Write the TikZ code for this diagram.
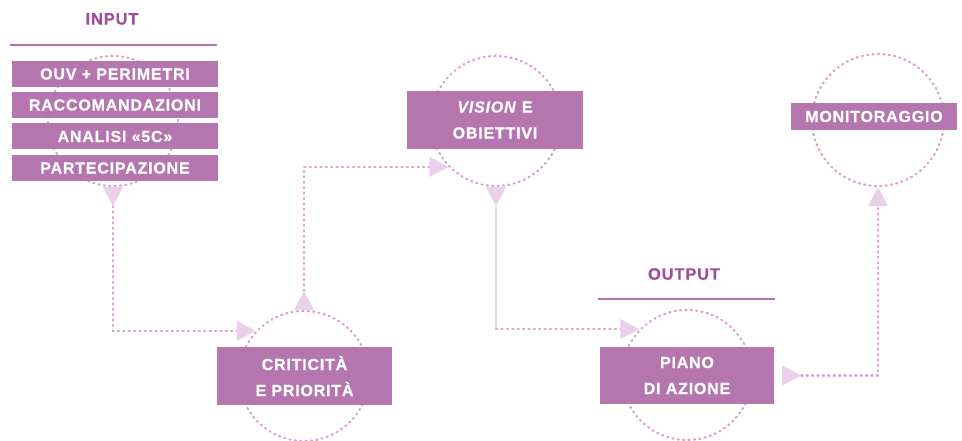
\documentclass[tikz,border=0pt]{standalone}
\usepackage{fontspec}
\setmainfont{Liberation Sans}
\newfontfamily\labfont[LetterSpace=5, FakeBold=0.6, ItalicFont={Liberation Sans Bold Italic}, ItalicFeatures={FakeBold=0.6}]{Liberation Sans Bold}
\usetikzlibrary{arrows.meta,calc}
\definecolor{boxc}{RGB}{181,117,175}
\definecolor{titlec}{RGB}{160,78,156}
\definecolor{rulec}{RGB}{182,112,176}
\definecolor{dotc}{RGB}{218,160,212}
\definecolor{tric}{RGB}{234,208,232}
\definecolor{linec}{RGB}{236,212,234}
\begin{document}
\begin{tikzpicture}[x=1pt,y=-1pt,
  box/.style={fill=boxc, text=white, inner sep=0pt, align=center,
    font=\labfont\fontsize{16}{26}\selectfont},
  title/.style={text=titlec, inner sep=0pt, font=\labfont\fontsize{16.5}{18}\selectfont},
  titlerule/.style={draw=rulec, line width=2.2pt},
  ring/.style={circle, minimum size=130pt, inner sep=0pt, draw=dotc, line width=2.2pt,
    dash pattern=on 1.2pt off 4.2pt, line cap=round},
  dots/.style={draw=dotc, line width=2.2pt, dash pattern=on 1.2pt off 4.2pt, line cap=round},
  solidl/.style={draw=linec, line width=1.6pt},
  both/.style={arrows={Triangle[reversed,length=19pt,width=20pt,color=tric,line width=0pt]-Triangle[length=19pt,width=20pt,color=tric,line width=0pt]}},
  startonly/.style={arrows={Triangle[reversed,length=19pt,width=20pt,color=tric,line width=0pt]-}},
  endonly/.style={arrows={-Triangle[length=19pt,width=20pt,color=tric,line width=0pt]}}
]
\useasboundingbox (0,0) rectangle (962,441);

% rings
\node[ring] (cIn) at (113,121) {};
\node[ring] (cCr) at (304,376) {};
\node[ring] (cVi) at (496,121) {};
\node[ring] (cPi) at (687,375) {};
\node[ring, minimum size=132pt] (cMo) at (878,120) {};

% titles
\node[title] (tIn) at (112,19) {INPUT};
\coordinate (rIn1) at (10,45);
\coordinate (rIn2) at (217,45);
\draw[titlerule] (rIn1) -- (rIn2);
\node[title] (tOut) at (684,274) {OUTPUT};
\coordinate (rOut1) at (598,299);
\coordinate (rOut2) at (775,299);
\draw[titlerule] (rOut1) -- (rOut2);

% input boxes
\node[box, minimum width=206pt, minimum height=26pt] (b1) at (115,74) {OUV + PERIMETRI};
\node[box, minimum width=206pt, minimum height=26pt] (b2) at (115,105) {RACCOMANDAZIONI};
\node[box, minimum width=206pt, minimum height=26pt] (b3) at (115,136.5) {ANALISI «5C»};
\node[box, minimum width=206pt, minimum height=26pt] (b4) at (115,168) {PARTECIPAZIONE};

% step boxes
\node[box, minimum width=175pt, minimum height=58pt] (bCr) at (304.5,376) {CRITICITÀ\\E PRIORITÀ};
\node[box, minimum width=176pt, minimum height=58pt] (bVi) at (495,120) {\textit{VISION} E\\OBIETTIVI};
\node[box, minimum width=174pt, minimum height=57pt] (bPi) at (687,375.5) {PIANO\\DI AZIONE};
\node[box, minimum width=166pt, minimum height=27pt] (bMo) at (874,116.5) {MONITORAGGIO};

% connectors
\draw[dots, both] (cIn.south) |- (cCr.137);
\draw[dots, both] (cCr.north) |- (cVi.224);
\coordinate (k3) at (cVi.south |- cPi.136);
\draw[solidl, startonly] (cVi.south) -- (k3);
\draw[dots, endonly] (k3) -- (cPi.136);
\coordinate (s4) at ($(bPi.east)+(8,0)$);
\draw[dots, both] (s4) -| (cMo.south);
\end{tikzpicture}
\end{document}
